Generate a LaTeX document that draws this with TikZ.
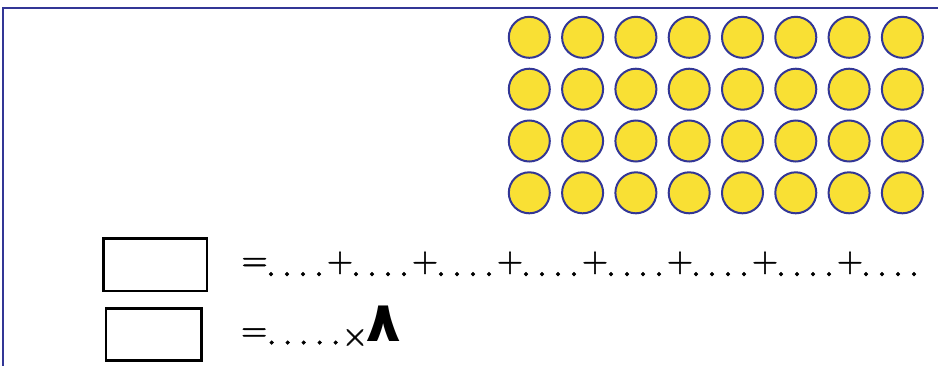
\documentclass[tikz,border=0pt]{standalone}
\usepackage{fontspec}
\newfontfamily\arabicfont[Script=Arabic]{DejaVu Sans}
\newfontfamily\symfont{lmroman10-regular.otf}[FakeBold=1.5]
\TeXXeTstate=1
\definecolor{frameblue}{RGB}{50,54,150}
\definecolor{dotyellow}{RGB}{249,224,52}
\newcommand\narrow[1]{\makebox[0.6em]{#1}}
\newcommand\thindot{\makebox[0.15em]{.}}
\tikzset{
  counter/.style={draw=frameblue,fill=dotyellow,line width=2pt},
  answerbox/.style={draw=black,line width=2.4pt,inner sep=0pt},
  sym/.style={inner sep=0pt,font=\symfont\fontsize{34}{40}\selectfont},
  dotsym/.style={inner sep=0pt,anchor=base,font=\symfont\fontsize{35}{41}\selectfont},
}
\begin{document}
\begin{tikzpicture}[x=1pt,y=-1pt]
\useasboundingbox (0,0) rectangle (938,365);
\fill[white] (0,0) rectangle (938,365);
\begin{scope}
\clip (0,0) rectangle (938,365);
\draw[frameblue,line width=2pt] (3.2,400) -- (3.2,8) -- (960,8);
\end{scope}
% counters
\foreach \r/\yy in {0/37.3,1/89.2,2/141,3/192.8}{
  \foreach \c in {0,...,7}{
    \draw[counter] ({529.3+53.3*\c},\yy) circle[radius=20.5];
  }
}
% answer boxes
\node[answerbox,minimum width=103.3pt,minimum height=52.5pt] (boxA) at (155.2,264.8) {};
\node[answerbox,minimum width=95.5pt,minimum height=52pt] (boxB) at (153.7,334.5) {};
% line 1
\node[sym] (eqA) at (254.6,264.3) {\narrow{=}};
\foreach \g in {0,...,7}{
  \foreach \j in {0,...,3}{
    \node[dotsym] (d\g\j) at ({271+85*\g+16*\j},276) {\thindot};
  }
}
\foreach \g in {0,...,6}{
  \node[sym] (p\g) at ({340+85*\g},262.8) {\narrow{+}};
}
% line 2
\node[sym] (eqB) at (254.2,334.7) {\narrow{=}};
\foreach \j in {0,...,4}{
  \node[dotsym] (e\j) at ({271.7+16*\j},344.4) {\thindot};
}
\node[sym] (times) at (355,337.5) {\narrow{×}};
\node[inner sep=0pt,font=\arabicfont\bfseries\fontsize{56}{64}\selectfont] (eight) at (384,324) {\beginR ٨\endR};
\end{tikzpicture}
\end{document}
